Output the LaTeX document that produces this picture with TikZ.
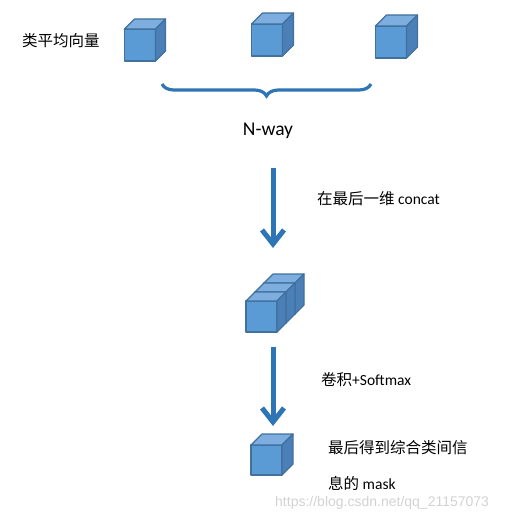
\documentclass[tikz,border=0pt]{standalone}
\usepackage{fontspec}
\setmainfont{Carlito}
\newfontfamily\cjk{Noto Sans CJK SC}
\newfontfamily\markfont{Liberation Sans}
\usetikzlibrary{arrows.meta,decorations.pathreplacing}

\definecolor{cubefront}{HTML}{5B9BD5}
\definecolor{cubetop}{HTML}{7DAEDF}
\definecolor{cubeside}{HTML}{4A7FB8}
\definecolor{cubeedge}{HTML}{41719C}
\definecolor{flowblue}{HTML}{2E75B6}

% top and right faces of a cube node
\newcommand{\cubefaces}[2]{%
	\draw[face, fill=cubetop] (#1.north west) -- ++(#2,-#2) -- ([shift={(#2,-#2)}]#1.north east) -- (#1.north east) -- cycle;
	\draw[face, fill=cubeside] (#1.north east) -- ++(#2,-#2) -- ([shift={(#2,-#2)}]#1.south east) -- (#1.south east) -- cycle;
}

\begin{document}
\begin{tikzpicture}[x=1pt, y=-1pt,
	face/.style={draw=cubeedge, line width=1.2pt, line join=round},
	cube/.style={shape=rectangle, face, fill=cubefront, minimum width=31pt, minimum height=32pt, inner sep=0pt, outer sep=0pt},
	flow/.style={draw=flowblue, line width=5pt, -{Straight Barb[length=14pt, width=22pt]}},
	label/.style={anchor=west, inner sep=0pt, font=\fontsize{15.5}{36}\selectfont}]
	\useasboundingbox (0,0) rectangle (529,513);

	% class mean vectors
	\node[label] (mean) at (22,41) {\cjk 类平均向量};
	\node[cube] (c1) at (140,45) {};
	\cubefaces{c1}{10}
	\node[cube] (c2) at (267,40) {};
	\cubefaces{c2}{11}
	\node[cube] (c3) at (391,42) {};
	\cubefaces{c3}{11}

	\draw[flowblue, line width=3.2pt, decorate, decoration={brace, mirror, amplitude=12pt}] (162,84) -- (371,84);
	\node[font=\fontsize{19.5}{22}\selectfont] (nway) at (268,131) {N-way};

	% concat
	\coordinate (a1s) at (273,168);
	\coordinate (a1e) at (273,248);
	\draw[flow] (a1s) -- (a1e);
	\node[label] (concat) at (317,199) {{\cjk 在最后一维} concat};

	\node[cube, minimum height=31pt] (cat3) at (279.5,298.5) {};
	\cubefaces{cat3}{9}
	\node[cube, minimum height=31pt] (cat2) at (270.5,307.5) {};
	\cubefaces{cat2}{9}
	\node[cube, minimum height=31pt] (cat1) at (261.5,316.5) {};
	\cubefaces{cat1}{9}

	% convolution
	\coordinate (a2s) at (273,347);
	\coordinate (a2e) at (273,426);
	\draw[flow] (a2s) -- (a2e);
	\node[label] (conv) at (321,380) {{\cjk 卷积}+Softmax};

	\node[cube, minimum height=30pt] (mask) at (266.5,460) {};
	\cubefaces{mask}{11}
	\node[label, anchor=north west, align=left] (result) at (328,440) {{\cjk 最后得到综合类间信}\\{\cjk 息的} mask};

	\node[anchor=west, inner sep=0pt, text=black!22, opacity=0.8, font=\markfont\fontsize{14}{16}\selectfont] (wm) at (275,503) {https://blog.csdn.net/qq\_21157073};
\end{tikzpicture}
\end{document}
